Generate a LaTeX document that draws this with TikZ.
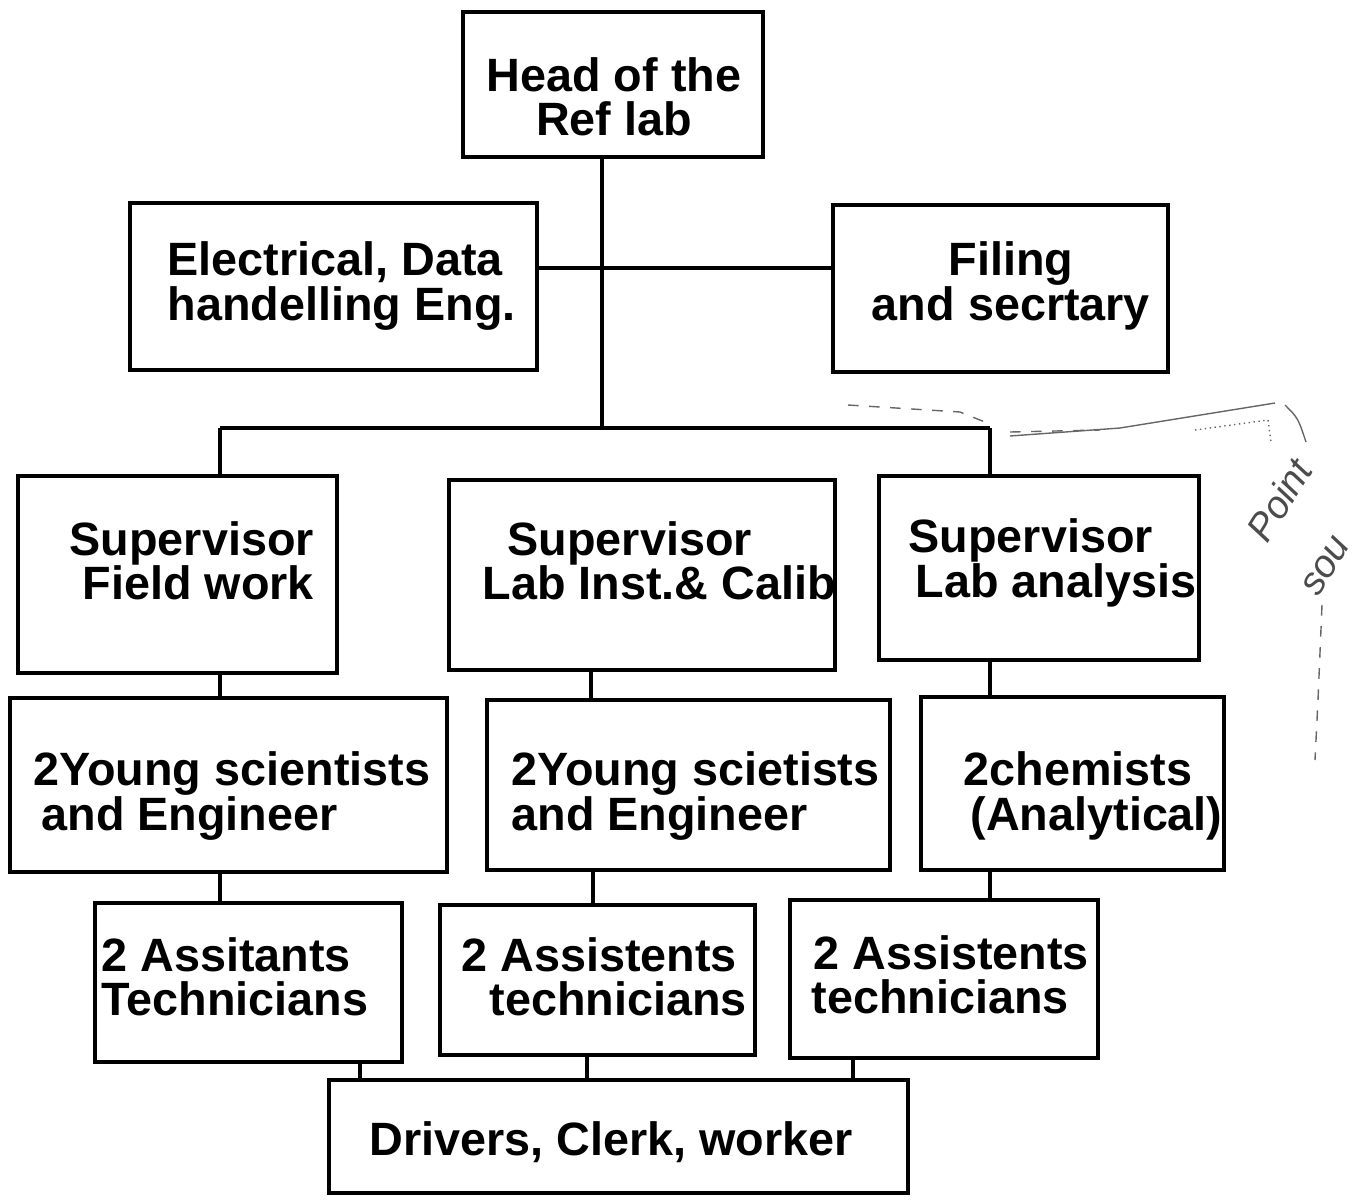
\documentclass[tikz,border=0pt]{standalone}
\usepackage{fontspec}
\setmainfont{Liberation Sans}
\begin{document}
\begin{tikzpicture}[x=0.1mm, y=-0.1mm, line width=0.9pt,
    box/.style={draw, inner sep=0pt},
    lbl/.style={font=\fontsize{13.3}{12.6}\selectfont\bfseries, align=left, inner sep=0pt, anchor=west},
    note/.style={draw=black!60, line width=0.4pt}]
\useasboundingbox (0,0) rectangle (1358,1199);
\node[box, minimum width=30mm, minimum height=14.5mm] (head) at (613,84.5) {};
\node[box, minimum width=40.7mm, minimum height=16.7mm] (elec) at (333.5,286.5) {};
\node[box, minimum width=33.5mm, minimum height=16.7mm] (filing) at (1000.5,288.5) {};
\node[box, minimum width=31.9mm, minimum height=19.7mm] (supF) at (177.5,574.5) {};
\node[box, minimum width=38.6mm, minimum height=19mm] (supL) at (642,575) {};
\node[box, minimum width=32mm, minimum height=18.4mm] (supA) at (1039,568) {};
\node[box, minimum width=43.7mm, minimum height=17.4mm] (youngF) at (228.5,785) {};
\node[box, minimum width=40.3mm, minimum height=17mm] (youngL) at (688.5,785) {};
\node[box, minimum width=30.3mm, minimum height=17.3mm] (chem) at (1072.5,783.5) {};
\node[box, minimum width=30.7mm, minimum height=15.9mm] (asF) at (248.5,982.5) {};
\node[box, minimum width=31.5mm, minimum height=15mm] (asL) at (597.5,980) {};
\node[box, minimum width=30.8mm, minimum height=15.8mm] (asA) at (944,979) {};
\node[box, minimum width=57.9mm, minimum height=11.3mm] (drivers) at (618.5,1136.5) {};

\node[lbl, align=center, anchor=center] (headT) at (614,97) {Head of the\\Ref lab};
\node[lbl] (elecT) at (166,286) {Electrical, Data\\handelling Eng.};
\node[lbl, align=center, anchor=center] (filingT) at (1011,286) {Filing\\and secrtary};
\node[lbl, align=right] (supFT) at (68,561) {Supervisor\\Field work};
\node[lbl] (supLT) at (481,561) {\hspace*{2.5mm}Supervisor\\Lab Inst.\& Calib};
\node[lbl] (supAT) at (907,563) {Supervisor\\\hspace*{0.7mm}Lab analysis};
\node[lbl] (youngFT) at (32,796) {2Young scientists\\\hspace*{0.8mm}and Engineer};
\node[lbl] (youngLT) at (510,796) {2Young scietists\\and Engineer};
\node[lbl] (chemT) at (962,796) {2chemists\\\hspace*{0.7mm}(Analytical)};
\node[lbl] (asFT) at (100,977) {2 Assitants\\Technicians};
\node[lbl] (asLT) at (460,977) {2 Assistents\\\hspace*{2.8mm}technicians};
\node[lbl] (asAT) at (810,975) {\hspace*{0.2mm}2 Assistents\\technicians};
\node[lbl] (driversT) at (368,1142) {Drivers, Clerk, worker};

\coordinate (hub) at (602,268);
\coordinate (bus) at (602,428);
\coordinate (busL) at (220,428);
\coordinate (busR) at (990,428);
\draw (head.south -| hub) -- (bus);
\draw (elec.east |- hub) -- (filing.west |- hub);
\draw (busL) -- (busR);
\draw (busL) -- (supF.north -| busL);
\draw (busR) -- (supA.north -| busR);
\draw (supF.south -| busL) -- (youngF.north -| busL);
\draw (youngF.south -| busL) -- (asF.north -| busL);
\draw (supL.south -| 591,0) -- (youngL.north -| 591,0);
\draw (youngL.south -| 593,0) -- (asL.north -| 593,0);
\draw (supA.south -| busR) -- (chem.north -| busR);
\draw (chem.south -| busR) -- (asA.north -| busR);
\draw (asF.south -| 360,0) -- (drivers.north -| 360,0);
\draw (asL.south -| 587,0) -- (drivers.north -| 587,0);
\draw (asA.south -| 853,0) -- (drivers.north -| 853,0);

\draw[note, dashed] (848,405) -- (960,412) -- (985,422);
\draw[note] (1010,436) -- (1120,428) -- (1275,403);
\draw[note, dashed] (1010,432) -- (1100,430);
\draw[note, densely dotted] (1195,430) -- (1268,420) -- (1271,442);
\draw[note] (1285,405) .. controls (1298,418) .. (1306,442);
\draw[note, dashed] (1322,605) -- (1318,700) -- (1315,760);
\node[font=\itshape\fontsize{11}{11}\selectfont, text=black!70, rotate=58, inner sep=0pt] (pointT) at (1279,500) {Point};
\node[font=\itshape\fontsize{11}{11}\selectfont, text=black!70, rotate=58, inner sep=0pt] (souT) at (1326,566) {sou};
\end{tikzpicture}
\end{document}
